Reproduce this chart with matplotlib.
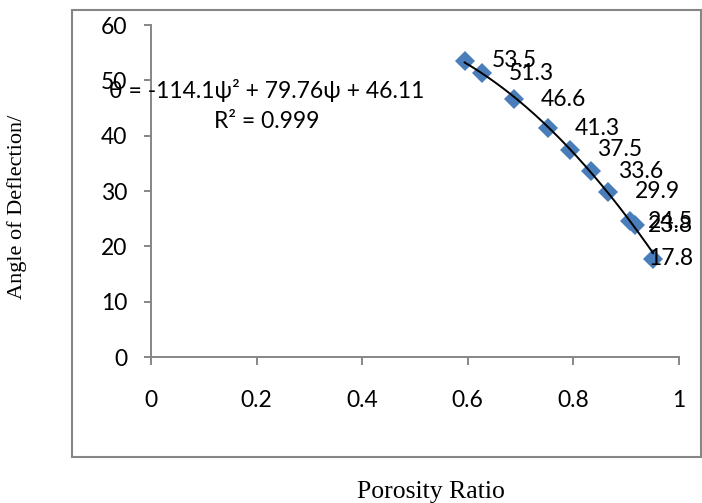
import numpy as np
import matplotlib
matplotlib.use("Agg")
import matplotlib.pyplot as plt
from matplotlib.patches import Rectangle
from matplotlib.ticker import FuncFormatter, MultipleLocator

# ---- data ----
porosity = [0.594, 0.626, 0.687, 0.752, 0.793, 0.833, 0.866, 0.908, 0.916, 0.951]
deflection = [53.5, 51.3, 46.6, 41.3, 37.5, 33.6, 29.9, 24.5, 23.8, 17.8]
poly_coef = [-114.1, 79.76, 46.11]
eq_line1 = "θ = -114.1ψ² + 79.76ψ + 46.11"
eq_line2 = "R² = 0.999"
x_label = "Porosity Ratio"
y_label = "Angle of Deflection/"

W, H = 702, 503
DPI = 100
SANS = ['Lato', 'Open Sans', 'DejaVu Sans']
SERIF = ['Liberation Serif', 'DejaVu Serif']
GRAY = '#868686'
BLUE = '#4A7EBB'

plt.rcParams['font.family'] = SANS

fig = plt.figure(figsize=(W / DPI, H / DPI), dpi=DPI)

def fx(px):
    return px / W

def fy(py):
    return 1 - py / H

# outer chart border
fig.patches.append(Rectangle((fx(72), fy(457)), fx(701) - fx(72), fy(10) - fy(457),
                             transform=fig.transFigure, fill=False,
                             edgecolor=GRAY, linewidth=1.5, zorder=0))

ax = fig.add_axes([fx(151), fy(357), fx(679) - fx(151), fy(25) - fy(357)])
ax.set_xlim(0, 1)
ax.set_ylim(0, 60)
ax.patch.set_alpha(0)
for s in ['top', 'right']:
    ax.spines[s].set_visible(False)
for s in ['left', 'bottom']:
    ax.spines[s].set_color(GRAY)
    ax.spines[s].set_linewidth(1.4)

ax.xaxis.set_major_locator(MultipleLocator(0.2))
ax.yaxis.set_major_locator(MultipleLocator(10))
fmt = FuncFormatter(lambda v, p: f"{v:g}")
ax.xaxis.set_major_formatter(fmt)
ax.yaxis.set_major_formatter(fmt)
ax.tick_params(axis='x', direction='out', length=6, width=1.4, color=GRAY,
               labelsize=16.5, pad=18)
ax.tick_params(axis='y', direction='out', length=5, width=1.4, color=GRAY,
               labelsize=16.5, pad=12)

# markers
ax.plot(porosity, deflection, linestyle='none', marker='D', markersize=10,
        color=BLUE, markeredgewidth=0, zorder=3, clip_on=False)

# trend line
xs = np.linspace(min(porosity), max(porosity), 200)
ax.plot(xs, np.polyval(poly_coef, xs), color='black', linewidth=1.4, zorder=4)

# data labels
anns = []
for x, y in zip(porosity, deflection):
    a = ax.annotate(f"{y:g}", (x, y), xytext=(27, 0), textcoords='offset pixels',
                    ha='left', va='center', fontsize=16.5, color='black', zorder=5,
                    annotation_clip=False)
    anns.append(a)

fig.canvas.draw()
renderer = fig.canvas.get_renderer()
limit = 693
for a in anns:
    bb = a.get_window_extent(renderer)
    if bb.x1 > limit:
        dx = bb.x1 - limit
        a.xyann = (27 - dx, 0)

# equation text
fig.text(fx(267), fy(90), eq_line1, ha='center', va='center', fontsize=16.5)
fig.text(fx(267), fy(122), eq_line2, ha='center', va='center', fontsize=16.5)

# axis titles
fig.text(fx(431), fy(492), x_label, ha='center', va='center', fontsize=18.5,
         family=SERIF)
fig.text(fx(17), fy(207), y_label, ha='center', va='center', fontsize=16,
         rotation=90, family=SERIF)

fig.savefig('out.png', dpi=DPI)
